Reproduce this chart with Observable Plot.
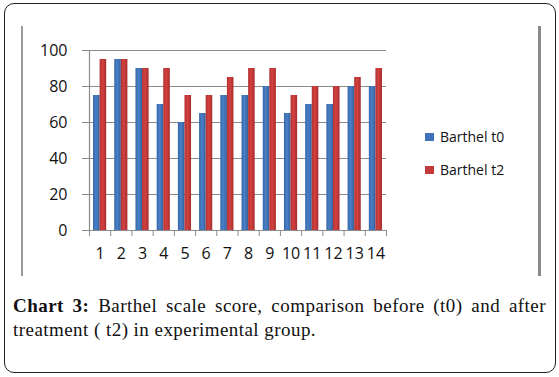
<!DOCTYPE html>
<html><head><meta charset="utf-8">
<script src="https://cdn.jsdelivr.net/npm/d3@7"></script>
<script src="https://cdn.jsdelivr.net/npm/@observablehq/plot@0.6"></script>
<style>
html,body{margin:0;padding:0;background:#fff;}
#wrap{position:relative;width:559px;height:377px;overflow:hidden;}
#outer{position:absolute;left:4px;top:3px;width:550px;height:368px;border:1.3px solid #222;border-radius:10px;}
.vline{position:absolute;top:26px;height:250px;background:#9a9a9a;}
#chart{position:absolute;left:0;top:0;}
.leg{position:absolute;left:425px;font-family:"Open Sans",sans-serif;font-size:14px;color:#111;white-space:nowrap;}
.leg span{display:inline-block;width:9px;height:8px;margin-right:6px;vertical-align:1px;}
#cap{position:absolute;left:13px;top:294px;width:533px;font-family:"Liberation Serif",serif;font-size:19px;letter-spacing:0.45px;line-height:24px;text-align:justify;color:#111;}
</style></head>
<body><div id="wrap">
<div id="outer"></div>
<div class="vline" style="left:21px;width:2px;"></div>
<div class="vline" style="left:538px;width:3px;background:#8a8a8a;"></div>
<div id="chart"></div>
<div class="leg" style="top:127px;"><span style="background:#3f72b8"></span>Barthel t0</div>
<div class="leg" style="top:160px;"><span style="background:#c43a3a"></span>Barthel t2</div>
<div id="cap"><b>Chart 3:</b> <span>Barthel scale score, comparison before (t0) and after</span> <span>treatment ( t2) in experimental group.</span></div>
</div>
<script>
const categories = [1,2,3,4,5,6,7,8,9,10,11,12,13,14];
const barthelT0 = [75,95,90,70,60,65,75,75,80,65,70,70,80,80];
const barthelT2 = [95,95,90,90,75,75,85,90,90,75,80,80,85,90];
const seriesNames = ["Barthel t0","Barthel t2"];
const yTicks = [0,20,40,60,80,100];

const rows0 = categories.map((c,i)=>({cat:c, v:barthelT0[i], s:seriesNames[0]}));
const rows2 = categories.map((c,i)=>({cat:c, v:barthelT2[i], s:seriesNames[1]}));
const boundaries = [categories[0]-0.5, ...categories.map(c=>c+0.5)];

const chart = Plot.plot({
  width:559, height:300,
  marginLeft:89, marginRight:173, marginTop:50, marginBottom:70,
  x:{domain:[0.5,14.5], label:null},
  y:{domain:[0,100], label:null},
  style:{fontFamily:"'Open Sans',sans-serif", color:"#111", background:"transparent", overflow:"visible"},
  marks:[
    Plot.ruleY(yTicks, {stroke:"#8c8c8c", strokeWidth:1.2}),
    Plot.rectY(rows0, {x1:d=>d.cat-0.31, x2:d=>d.cat, y1:0, y2:"v", fill:"url(#gBlue)"}),
    Plot.rectY(rows2, {x1:d=>d.cat, x2:d=>d.cat+0.31, y1:0, y2:"v", fill:"url(#gRed)"}),
    Plot.ruleX([boundaries[0]], {stroke:"#8c8c8c", strokeWidth:1.2}),
    Plot.axisY({ticks:yTicks, tickSize:7, tickPadding:15, stroke:"#8c8c8c", fill:"#111", fontSize:16, label:null}),
    Plot.axisX({ticks:boundaries, tickSize:6, stroke:"#8c8c8c", tickFormat:()=>"", label:null}),
    Plot.axisX({ticks:categories, tickSize:0, tickPadding:17, fill:"#111", fontSize:16, tickFormat:d=>String(d), label:null})
  ]
});
const defs = `<defs>
<linearGradient id="gBlue" x1="0" y1="0" x2="1" y2="0">
<stop offset="0" stop-color="#3565a8"/><stop offset="0.45" stop-color="#4a80c6"/><stop offset="1" stop-color="#33609f"/></linearGradient>
<linearGradient id="gRed" x1="0" y1="0" x2="1" y2="0">
<stop offset="0" stop-color="#b23232"/><stop offset="0.45" stop-color="#d2413f"/><stop offset="1" stop-color="#a82d2d"/></linearGradient>
</defs>`;
chart.insertAdjacentHTML("afterbegin", defs);
document.getElementById("chart").appendChild(chart);
</script>
</body></html>
